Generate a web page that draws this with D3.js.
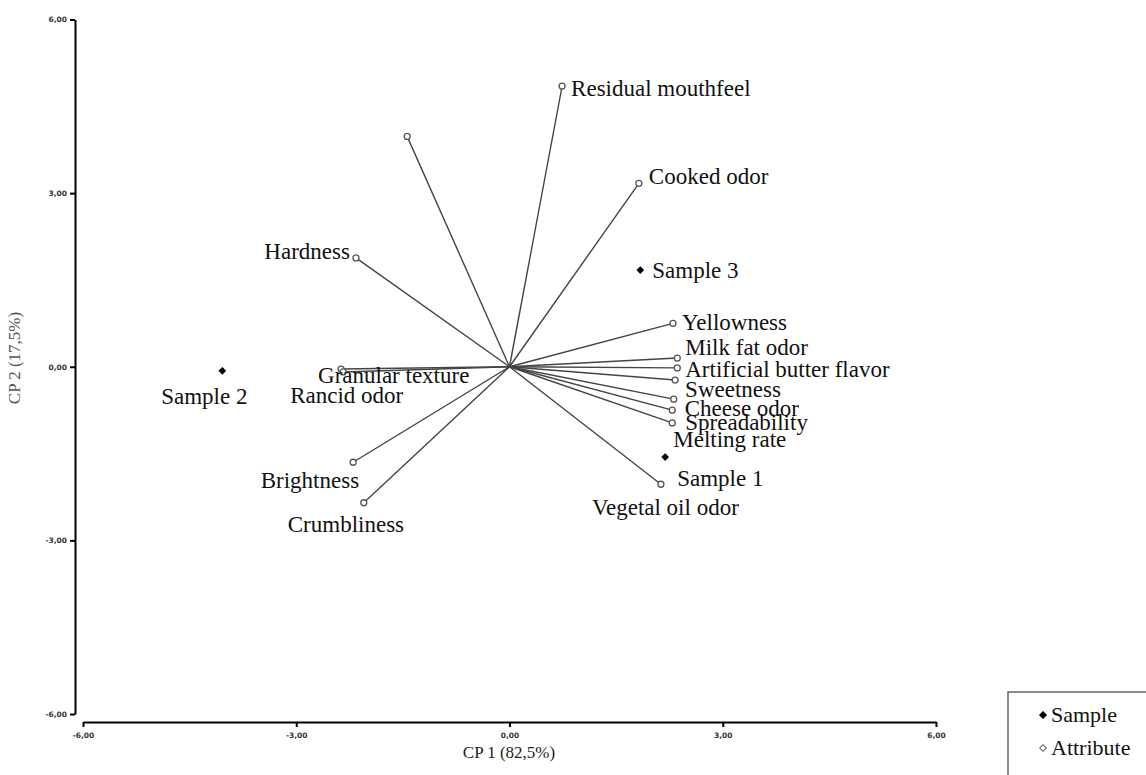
<!DOCTYPE html>
<html>
<head>
<meta charset="utf-8">
<script src="https://cdn.jsdelivr.net/npm/d3@7"></script>
<style>
  body { margin: 0; background: #fff; }
  svg { display: block; font-family: "Liberation Serif", "Times New Roman", serif; }
</style>
</head>
<body>
<script>
// attribute loadings (CP1, CP2)
var attrNames = ['Residual mouthfeel', '', 'Cooked odor', 'Hardness', 'Yellowness',
  'Milk fat odor', 'Artificial butter flavor', 'Sweetness', 'Cheese odor',
  'Spreadability', 'Melting rate', 'Vegetal oil odor', 'Granular texture',
  'Rancid odor', 'Brightness', 'Crumbliness'];
var attrCP1 = [0.74, -1.44, 1.82, -2.16, 2.30, 2.36, 2.36, 2.33, 2.31, 2.29, 2.29, 2.13, -2.37, -2.34, -2.20, -2.05];
var attrCP2 = [4.85, 3.98, 3.17, 1.88, 0.75, 0.15, -0.02, -0.23, -0.56, -0.75, -0.97, -2.03, -0.04, -0.09, -1.65, -2.35];

// sample scores
var sampleNames = ['Sample 1', 'Sample 2', 'Sample 3'];
var sampleCP1 = [2.19, -4.04, 1.84];
var sampleCP2 = [-1.56, -0.07, 1.67];

var tickValues = [-6, -3, 0, 3, 6];
var legendItems = ['Sample', 'Attribute'];

// label placement relative to the marker: [dx, dy, anchor]
var labelPlace = {
  'Residual mouthfeel': [9, 2, 'start'],
  'Cooked odor': [10, -7, 'start'],
  'Hardness': [-6, -7, 'end'],
  'Yellowness': [9, -1, 'start'],
  'Milk fat odor': [8, -11, 'start'],
  'Artificial butter flavor': [8, 2, 'start'],
  'Sweetness': [10, 9, 'start'],
  'Cheese odor': [11, 9, 'start'],
  'Spreadability': [13, 12, 'start'],
  'Melting rate': [1, 17, 'start'],
  'Vegetal oil odor': [-69, 23, 'start'],
  'Granular texture': [-23, 6, 'start'],
  'Rancid odor': [-53, 23, 'start'],
  'Brightness': [6, 18, 'end'],
  'Crumbliness': [-76, 22, 'start'],
  'Sample 1': [12, 21, 'start'],
  'Sample 2': [-18, 26, 'middle'],
  'Sample 3': [12, 0, 'start']
};

var W = 1146, H = 775;
var svg = d3.select('body').append('svg').attr('width', W).attr('height', H);

var x = d3.scaleLinear().domain([-6, 6]).range([83, 936]);
var y = d3.scaleLinear().domain([-6, 6]).range([714, 19.5]);
var fmt = function(d) { return d3.format('.2f')(d).replace('.', ',').replace('−', '-'); };

// axes
var yAxis = svg.append('g').attr('transform', 'translate(75,0)')
  .call(d3.axisLeft(y).tickValues(tickValues).tickFormat(fmt).tickSize(5).tickSizeOuter(0));
var xAxis = svg.append('g').attr('transform', 'translate(0,722)')
  .call(d3.axisBottom(x).tickValues(tickValues).tickFormat(fmt).tickSize(5).tickSizeOuter(0));
[xAxis, yAxis].forEach(function(a) {
  a.select('.domain').attr('stroke', '#000').attr('stroke-width', 2);
  a.selectAll('.tick line').attr('stroke', '#000').attr('stroke-width', 2);
  a.selectAll('.tick text').attr('font-family', '"DejaVu Sans", sans-serif')
    .attr('font-size', 7.5).attr('font-weight', 'bold').attr('fill', '#333');
});
xAxis.selectAll('.tick text').attr('dy', '1.1em');

svg.append('text').attr('x', 509).attr('y', 758).attr('text-anchor', 'middle')
  .attr('font-size', 17).attr('fill', '#222').text('CP 1 (82,5%)');
svg.append('text').attr('transform', 'translate(20,358) rotate(-90)')
  .attr('text-anchor', 'middle').attr('font-size', 17).attr('fill', '#555').text('CP 2 (17,5%)');

var attrs = attrNames.map(function(n, i) { return {name: n, cx: attrCP1[i], cy: attrCP2[i]}; });
var samples = sampleNames.map(function(n, i) { return {name: n, cx: sampleCP1[i], cy: sampleCP2[i]}; });

// vectors
svg.append('g').selectAll('line').data(attrs).enter().append('line')
  .attr('x1', x(0)).attr('y1', y(0))
  .attr('x2', function(d) { return x(d.cx); })
  .attr('y2', function(d) { return y(d.cy); })
  .attr('stroke', '#444').attr('stroke-width', 1.4);

svg.append('g').selectAll('circle').data(attrs).enter().append('circle')
  .attr('cx', function(d) { return x(d.cx); })
  .attr('cy', function(d) { return y(d.cy); })
  .attr('r', 3).attr('fill', '#fff').attr('stroke', '#555').attr('stroke-width', 1.3);

// square turned 45 degrees gives an even diamond
var diamond = d3.symbol().type(d3.symbolSquare).size(30);
svg.append('g').selectAll('path').data(samples).enter().append('path')
  .attr('d', diamond)
  .attr('transform', function(d) { return 'translate(' + x(d.cx) + ',' + y(d.cy) + ') rotate(45)'; })
  .attr('fill', '#000');

// labels
var labelled = attrs.concat(samples).filter(function(d) { return d.name; });
svg.append('g').selectAll('text').data(labelled).enter().append('text')
  .attr('x', function(d) { return x(d.cx) + labelPlace[d.name][0]; })
  .attr('y', function(d) { return y(d.cy) + labelPlace[d.name][1]; })
  .attr('dy', '0.33em')
  .attr('text-anchor', function(d) { return labelPlace[d.name][2]; })
  .attr('font-size', 23).attr('fill', '#111')
  .text(function(d) { return d.name; });

// legend
var lg = svg.append('g');
lg.append('rect').attr('x', 1008).attr('y', 692).attr('width', 200).attr('height', 150)
  .attr('fill', '#fff').attr('stroke', '#666').attr('stroke-width', 1.5);
var li = lg.selectAll('g.item').data(legendItems).enter().append('g')
  .attr('transform', function(d, i) { return 'translate(1043,' + (715 + i * 33) + ')'; });
li.append('path').attr('d', d3.symbol().type(d3.symbolSquare).size(22))
  .attr('transform', 'rotate(45)')
  .attr('fill', function(d, i) { return i === 0 ? '#000' : '#fff'; })
  .attr('stroke', function(d, i) { return i === 0 ? '#000' : '#666'; }).attr('stroke-width', 1);
li.append('text').attr('x', 8).attr('dy', '0.33em').attr('font-size', 22).attr('fill', '#111')
  .text(function(d) { return d; });
</script>
</body>
</html>
